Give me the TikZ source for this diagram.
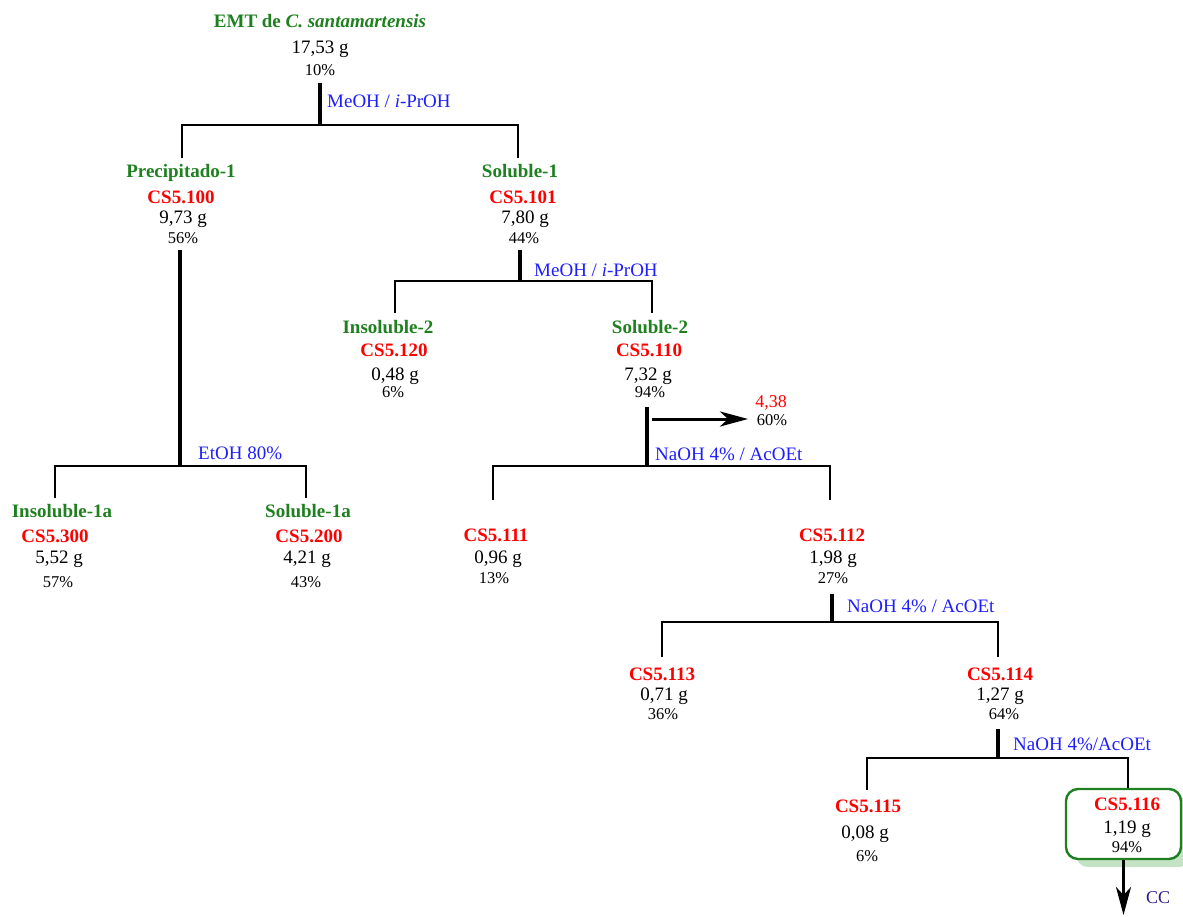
\documentclass[tikz,border=0pt]{standalone}
\usepackage{fontspec}
\setmainfont{Liberation Serif}
\usetikzlibrary{arrows.meta,shadows}
\definecolor{grn}{RGB}{30,128,30}
\definecolor{rd}{RGB}{255,0,0}
\definecolor{blu}{RGB}{30,30,255}
\definecolor{ind}{RGB}{50,25,135}
\definecolor{shd}{RGB}{196,226,196}
\tikzset{
 lbl/.style={anchor=base,inner sep=0pt,font=\fontsize{19}{21}\selectfont\bfseries,text=grn},
 code/.style={anchor=base,inner sep=0pt,font=\fontsize{19}{21}\selectfont\bfseries,text=rd},
 wt/.style={anchor=base,inner sep=0pt,font=\fontsize{19}{21}\selectfont},
 pct/.style={anchor=base,inner sep=0pt,font=\fontsize{16.5}{18}\selectfont},
 solv/.style={anchor=base west,inner sep=0pt,font=\fontsize{19}{21}\selectfont,text=blu},
 trunk/.style={line width=3.2pt},
 branch/.style={line width=2.5pt},
 arr/.style={line width=3pt,-{Stealth[length=28pt,width=15pt,inset=8pt]}},
}
\begin{document}
\begin{tikzpicture}[x=1pt,y=-1pt]
\useasboundingbox (0,0) rectangle (1183,916);
% ---------- root
\node[lbl] (t0) at (320,27) {EMT de \textit{C. santamartensis}};
\node[wt]  (w0) at (320,53) {17,53 g};
\node[pct] (p0) at (320,75) {10\%};
\coordinate (s0) at (320,83);
\coordinate (j0) at (320,125);
\coordinate (d0l) at (182,158);
\coordinate (d0r) at (518,158);
\draw[trunk] (s0) -- (j0);
\draw[branch] (d0l) |- (j0) -| (d0r);
\node[solv] (m0) at (327,107) {MeOH / \textit{i}-PrOH};
% ---------- Precipitado-1
\node[lbl]  (t1) at (181,177) {Precipitado-1};
\node[code] (c1) at (181,203) {CS5.100};
\node[wt]   (w1) at (183,223) {9,73 g};
\node[pct]  (p1) at (183,243) {56\%};
% ---------- Soluble-1
\node[lbl]  (t2) at (520,177) {Soluble-1};
\node[code] (c2) at (523,203) {CS5.101};
\node[wt]   (w2) at (525,223) {7,80 g};
\node[pct]  (p2) at (524,243) {44\%};
% ---------- EtOH branch
\coordinate (s1) at (180,250);
\coordinate (j1) at (180,466);
\coordinate (d1l) at (55,498);
\coordinate (d1r) at (306,498);
\draw[trunk] (s1) -- (j1);
\draw[branch] (d1l) |- (j1) -| (d1r);
\node[solv] (m1) at (198,459) {EtOH 80\%};
\node[lbl]  (t3) at (62,517) {Insoluble-1a};
\node[code] (c3) at (55,542) {CS5.300};
\node[wt]   (w3) at (59,563) {5,52 g};
\node[pct]  (p3) at (58,587) {57\%};
\node[lbl]  (t4) at (308,517) {Soluble-1a};
\node[code] (c4) at (309,542) {CS5.200};
\node[wt]   (w4) at (307,563) {4,21 g};
\node[pct]  (p4) at (306,587) {43\%};
% ---------- Soluble-1 split
\coordinate (s2) at (520,250);
\coordinate (j2) at (520,281);
\coordinate (d2l) at (395,313);
\coordinate (d2r) at (652,313);
\draw[trunk] (s2) -- (j2);
\draw[branch] (d2l) |- (j2) -| (d2r);
\node[solv] (m2) at (534,276) {MeOH / \textit{i}-PrOH};
\node[lbl]  (t5) at (388,333) {Insoluble-2};
\node[code] (c5) at (394,356) {CS5.120};
\node[wt]   (w5) at (395,380) {0,48 g};
\node[pct]  (p5) at (393,397) {6\%};
\node[lbl]  (t6) at (650,333) {Soluble-2};
\node[code] (c6) at (649,356) {CS5.110};
\node[wt]   (w6) at (648,380) {7,32 g};
\node[pct]  (p6) at (650,397) {94\%};
% ---------- side arrow
\coordinate (a0) at (652,419);
\node[text=rd, anchor=base, inner sep=0pt, font=\fontsize{18}{20}\selectfont] (x1) at (771,407) {4,38};
\node[pct] (x2) at (772,425) {60\%};
\coordinate (a1) at (748,419);
\draw[arr] (a0) -- (a1);
% ---------- Soluble-2 split
\coordinate (s3) at (647,407);
\coordinate (j3) at (647,466);
\coordinate (d3l) at (493,500);
\coordinate (d3r) at (830,500);
\draw[trunk] (s3) -- (j3);
\draw[branch] (d3l) |- (j3) -| (d3r);
\node[solv] (m3) at (655,460) {NaOH 4\% / AcOEt};
\node[code] (c7) at (496,541) {CS5.111};
\node[wt]   (w7) at (498,563) {0,96 g};
\node[pct]  (p7) at (494,583) {13\%};
\node[code] (c8) at (832,541) {CS5.112};
\node[wt]   (w8) at (833,563) {1,98 g};
\node[pct]  (p8) at (833,583) {27\%};
% ---------- CS5.112 split
\coordinate (s4) at (832,594);
\coordinate (j4) at (832,622);
\coordinate (d4l) at (662,657);
\coordinate (d4r) at (998,657);
\draw[trunk] (s4) -- (j4);
\draw[branch] (d4l) |- (j4) -| (d4r);
\node[solv] (m4) at (847,612) {NaOH 4\% / AcOEt};
\node[code] (c9) at (662,680) {CS5.113};
\node[wt]   (w9) at (664,700) {0,71 g};
\node[pct]  (p9) at (663,719) {36\%};
\node[code] (c10) at (1000,680) {CS5.114};
\node[wt]   (w10) at (1000,700) {1,27 g};
\node[pct]  (p10) at (1004,719) {64\%};
% ---------- CS5.114 split
\coordinate (s5) at (998,729);
\coordinate (j5) at (998,758);
\coordinate (d5l) at (867,790);
\coordinate (d5r) at (1128,790);
\draw[trunk] (s5) -- (j5);
\draw[branch] (d5l) |- (j5) -| (d5r);
\node[solv] (m5) at (1013,750) {NaOH 4\%/AcOEt};
\node[code] (c11) at (868,812) {CS5.115};
\node[wt]   (w11) at (865,838) {0,08 g};
\node[pct]  (p11) at (867,861) {6\%};
% ---------- final box
\node[draw=grn, fill=white, line width=2.4pt, rounded corners=12pt,
      minimum width=115pt, minimum height=70pt, inner sep=0pt,
      drop shadow={shadow xshift=10pt, shadow yshift=-8pt, fill=shd, opacity=1}]
      (box) at (1123.5,824) {};
\node[code] (c12) at (1127,810) {CS5.116};
\node[wt]   (w12) at (1127,833) {1,19 g};
\node[pct]  (p12) at (1127,852) {94\%};
\coordinate (cc) at (1123.5,915);
\draw[arr] (box.south) -- (cc);
\node[anchor=base, inner sep=0pt, text=ind, font=\fontsize{18}{20}\selectfont] (t13) at (1158,903) {CC};
\end{tikzpicture}
\end{document}
